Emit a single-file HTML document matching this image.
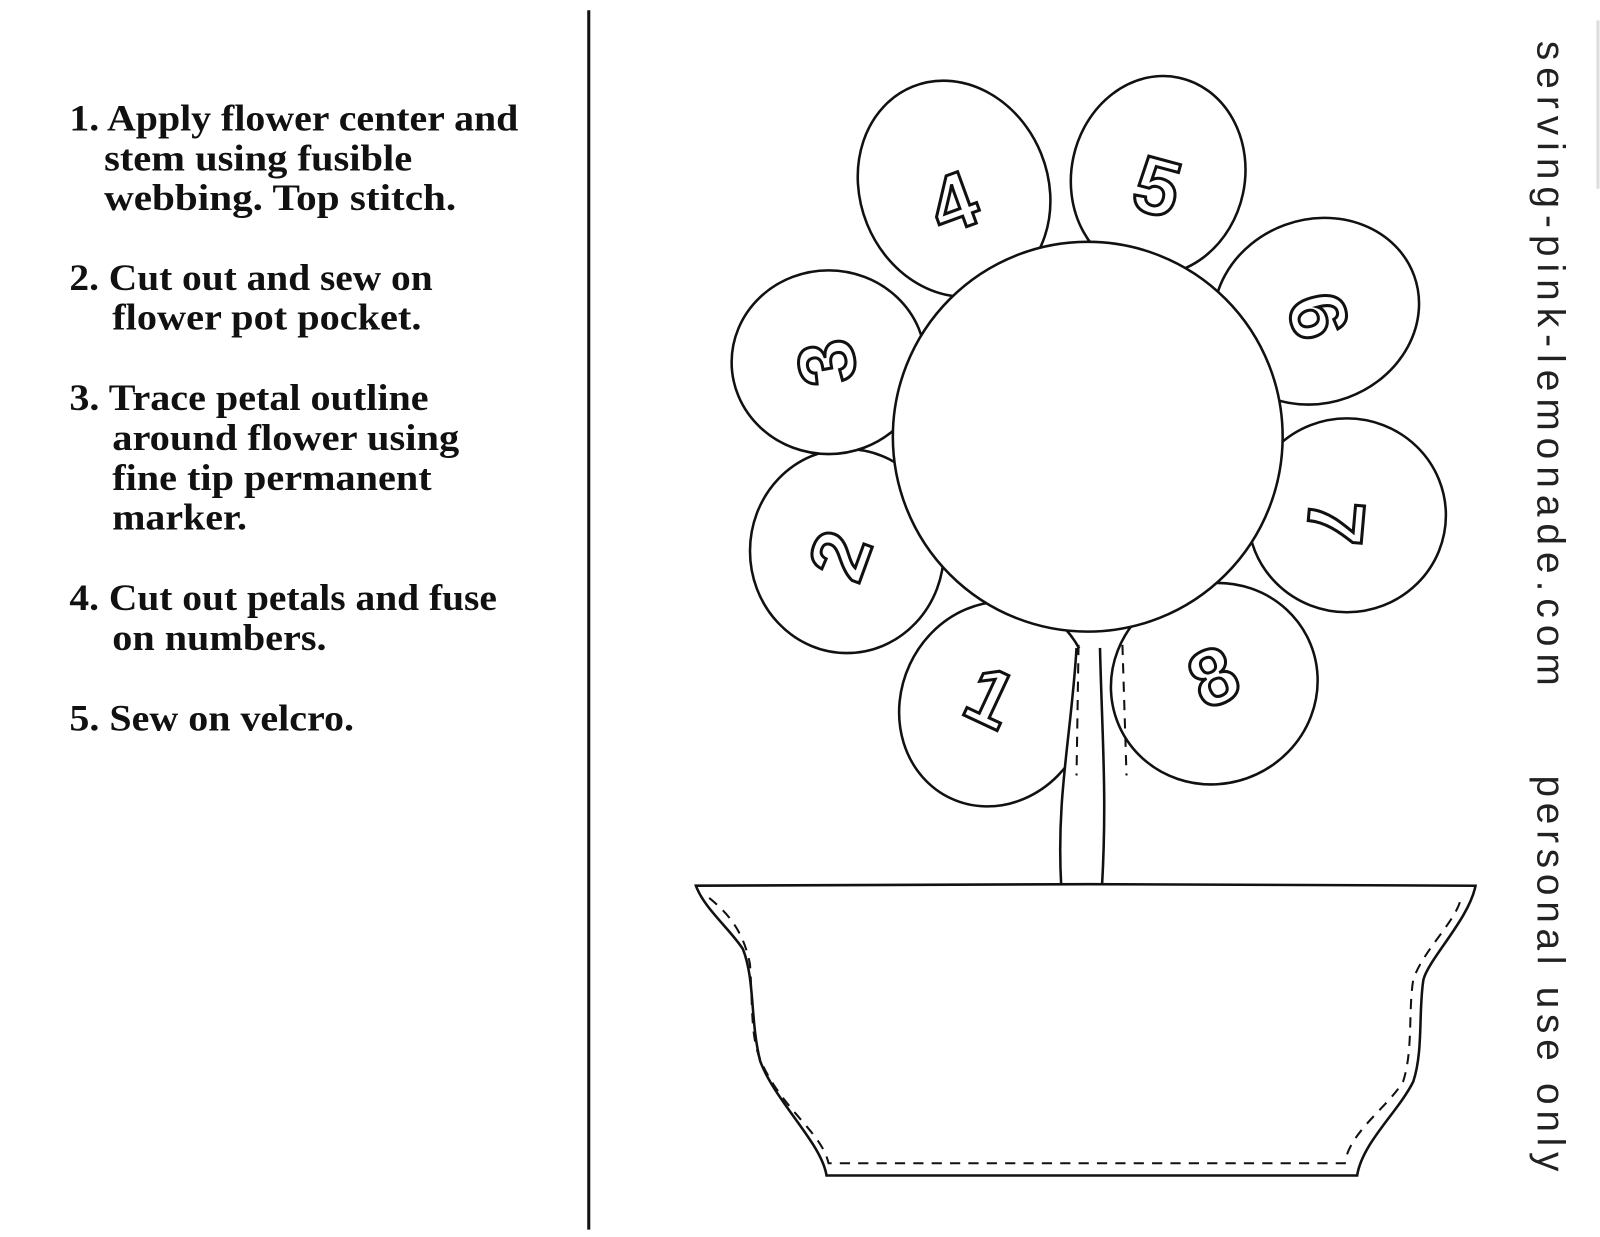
<!DOCTYPE html>
<html><head><meta charset="utf-8"><style>
html,body{margin:0;padding:0;background:#fff;}
svg{display:block;}
.t{font-family:"Liberation Serif",serif;font-weight:bold;font-size:36px;fill:#111;}
.n{font-family:"Liberation Sans",sans-serif;font-weight:bold;font-size:78px;fill:#fff;stroke:#111;stroke-width:3;}
</style></head><body>
<svg width="1600" height="1237" viewBox="0 0 1600 1237" xmlns="http://www.w3.org/2000/svg">
<rect width="1600" height="1237" fill="#fff"/>
<g transform="scale(1.0204)">
<line x1="577" y1="10" x2="577" y2="1205" stroke="#111" stroke-width="3"/>
<g class="t" lengthAdjust="spacingAndGlyphs">
<text x="68" y="128" textLength="440" lengthAdjust="spacingAndGlyphs">1. Apply flower center and</text>
<text x="102" y="167" textLength="302" lengthAdjust="spacingAndGlyphs">stem using fusible</text>
<text x="102" y="206" textLength="345" lengthAdjust="spacingAndGlyphs">webbing.  Top stitch.</text>
<text x="68" y="284" textLength="356" lengthAdjust="spacingAndGlyphs">2. Cut out and sew on</text>
<text x="110" y="323" textLength="303" lengthAdjust="spacingAndGlyphs">flower pot pocket.</text>
<text x="68" y="402" textLength="352" lengthAdjust="spacingAndGlyphs">3. Trace petal outline</text>
<text x="110" y="441" textLength="340" lengthAdjust="spacingAndGlyphs">around flower using</text>
<text x="110" y="480" textLength="313" lengthAdjust="spacingAndGlyphs">fine tip permanent</text>
<text x="110" y="519" textLength="132" lengthAdjust="spacingAndGlyphs">marker.</text>
<text x="68" y="598" textLength="419" lengthAdjust="spacingAndGlyphs">4. Cut out petals and fuse</text>
<text x="110" y="637" textLength="210" lengthAdjust="spacingAndGlyphs">on numbers.</text>
<text x="68" y="716" textLength="279" lengthAdjust="spacingAndGlyphs">5. Sew on velcro.</text>
</g>
<g fill="#fff" stroke="#111" stroke-width="2.5">
<ellipse cx="935" cy="185" rx="92" ry="108" transform="rotate(-22 935 185)"/>
<ellipse cx="1135" cy="172" rx="85" ry="98" transform="rotate(12 1135 172)"/>
<ellipse cx="1290" cy="305" rx="102" ry="90" transform="rotate(-20 1290 305)"/>
<ellipse cx="1320" cy="505" rx="97" ry="95"/>
<ellipse cx="1190" cy="670" rx="102" ry="98" transform="rotate(-25 1190 670)"/>
<ellipse cx="975" cy="690" rx="92" ry="102" transform="rotate(25 975 690)"/>
<ellipse cx="830" cy="540" rx="95" ry="100"/>
<ellipse cx="812" cy="355" rx="95" ry="90"/>
<path d="M1055 635 C1050 720 1035 780 1040 868 L1080 868 C1075 780 1085 720 1075 635 Z" stroke="none"/>
<circle cx="1066" cy="428" r="191"/>
</g>
<g fill="none" stroke="#111" stroke-width="2.5">
<path d="M1055 635 C1050 720 1035 780 1040 868"/>
<path d="M1078 635 C1080 720 1085 780 1080 868"/>
</g>
<g fill="none" stroke="#111" stroke-width="2" stroke-dasharray="10 8">
<path d="M1057 632 L1055 760"/>
<path d="M1100 632 L1104 760"/>
</g>
<g class="n">
<text x="935" y="225" transform="rotate(-20 935 200)" text-anchor="middle">4</text>
<text x="1135" y="210" transform="rotate(15 1135 180)" text-anchor="middle">5</text>
<text x="1290" y="335" transform="rotate(75 1290 310)" text-anchor="middle">6</text>
<text x="1310" y="540" transform="rotate(95 1310 512)" text-anchor="middle">7</text>
<text x="1190" y="690" transform="rotate(-25 1190 665)" text-anchor="middle">8</text>
<text x="970" y="710" transform="rotate(25 970 685)" text-anchor="middle">1</text>
<text x="825" y="570" transform="rotate(-70 825 545)" text-anchor="middle">2</text>
<text x="812" y="380" transform="rotate(-100 812 355)" text-anchor="middle">3</text>
</g>
<path d="M682 868 C750 866 1350 866 1446 868 C1440 900 1400 940 1395 960 C1390 990 1395 1030 1385 1060 C1370 1090 1335 1120 1330 1152 L810 1152 C805 1120 760 1080 745 1040 C735 1000 740 960 728 930 C715 910 690 890 682 868 Z" fill="#fff" stroke="#111" stroke-width="2.5"/>
<path d="M695 880 C720 900 730 920 735 945 C738 990 735 1020 748 1045 C770 1090 805 1110 812 1140 L1318 1140 C1322 1110 1360 1085 1375 1060 C1385 1030 1380 990 1385 960 C1395 930 1430 900 1432 878" fill="none" stroke="#111" stroke-width="2" stroke-dasharray="10 8"/>
<g font-family="Liberation Sans, sans-serif" font-size="38" fill="#222">
<text transform="translate(1507 40) rotate(90)" textLength="632" lengthAdjust="spacing">serving-pink-lemonade.com</text>
<text transform="translate(1507 760) rotate(90)" textLength="388" lengthAdjust="spacing">personal use only</text>
</g>
<line x1="1566" y1="20" x2="1566" y2="185" stroke="#ddd" stroke-width="3"/>
</g>
</svg>
</body></html>
